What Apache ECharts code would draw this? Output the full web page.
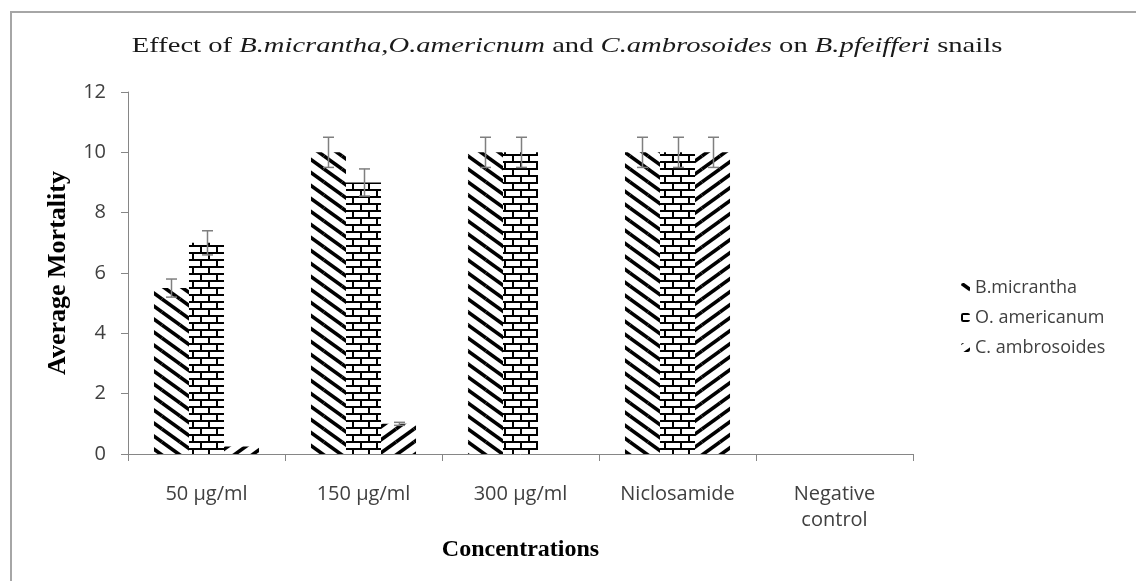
<!DOCTYPE html>
<html><head><meta charset="utf-8">
<script src="https://cdn.jsdelivr.net/npm/echarts@6/dist/echarts.min.js"></script>
<style>html,body{margin:0;padding:0;background:#fff}#chart{width:1136px;height:581px}</style>
</head><body><div id="chart"></div>
<script>
const categories = ['50 µg/ml', '150 µg/ml', '300 µg/ml', 'Niclosamide', 'Negative\ncontrol'];
const seriesNames = ['B.micrantha', 'O. americanum', 'C. ambrosoides'];
const bMicrantha = [5.5, 10, 10, 10, 0];
const oAmericanum = [7, 9, 10, 10, 0];
const cAmbrosoides = [0.25, 1, 0, 10, 0];
const bMicranthaErr = [0.3, 0.5, 0.5, 0.5, 0];
const oAmericanumErr = [0.4, 0.45, 0.5, 0.5, 0];
const cAmbrosoidesErr = [0, 0.05, 0, 0.5, 0];
const yMin = 0, yMax = 12, yStep = 2;

function stripes(dir) {
  const w = 18, h = 13;
  const c = document.createElement('canvas'); c.width = w; c.height = h;
  const g = c.getContext('2d');
  g.fillStyle = '#fff'; g.fillRect(0, 0, w, h);
  g.strokeStyle = '#000'; g.lineWidth = 3.6;
  for (const dx of [-w, 0, w]) for (const dy of [-h, 0, h]) {
    g.beginPath();
    if (dir > 0) { g.moveTo(dx, dy); g.lineTo(dx + w, dy + h); }
    else { g.moveTo(dx, dy + h); g.lineTo(dx + w, dy); }
    g.stroke();
  }
  return c;
}
function bricks() {
  const w = 16, h = 14;
  const c = document.createElement('canvas'); c.width = w; c.height = h;
  const g = c.getContext('2d');
  g.fillStyle = '#fff'; g.fillRect(0, 0, w, h);
  g.fillStyle = '#000';
  g.fillRect(0, 0, w, 2); g.fillRect(0, 7, w, 2);
  g.fillRect(0, 0, 2, 7); g.fillRect(8, 7, 2, 7);
  return c;
}
const patterns = [
  { image: stripes(1), repeat: 'repeat' },
  { image: bricks(), repeat: 'repeat' },
  { image: stripes(-1), repeat: 'repeat' }
];
const values = [bMicrantha, oAmericanum, cAmbrosoides];
const errors = [bMicranthaErr, oAmericanumErr, cAmbrosoidesErr];
const BAR_FRAC = 0.223;

const barSeries = values.map((vals, i) => ({
  type: 'bar', name: seriesNames[i], data: vals,
  barWidth: (BAR_FRAC * 100) + '%', barGap: '0%',
  itemStyle: { color: patterns[i] },
  emphasis: { disabled: true }
}));
const errSeries = values.map((vals, i) => ({
  type: 'custom', z: 10, silent: true,
  data: vals.map((v, k) => [k, v, errors[i][k]]),
  encode: { x: 0, y: 1 },
  renderItem(params, api) {
    const k = api.value(0), v = api.value(1), e = api.value(2);
    if (!e) return null;
    const cw = api.size([1, 0])[0];
    const bw = cw * BAR_FRAC;
    const x = Math.round(api.coord([k, v])[0] + (i - 1) * bw) + 0.5;
    const yt = api.coord([k, v + e])[1], yb = api.coord([k, v - e])[1];
    const cap = 5.5;
    const st = { stroke: '#7f7f7f', lineWidth: 1.5 };
    return { type: 'group', children: [
      { type: 'line', shape: { x1: x, y1: yt, x2: x, y2: yb }, style: st },
      { type: 'line', shape: { x1: x - cap, y1: yt, x2: x + cap, y2: yt }, style: st },
      { type: 'line', shape: { x1: x - cap, y1: yb, x2: x + cap, y2: yb }, style: st }
    ]};
  }
}));

const chart = echarts.init(document.getElementById('chart'));
chart.setOption({
  backgroundColor: '#fff',
  animation: false,
  graphic: [
    { type: 'line', shape: { x1: 10, y1: 12, x2: 1136, y2: 12 }, style: { stroke: '#a6a6a6', lineWidth: 2 } },
    { type: 'line', shape: { x1: 11, y1: 12, x2: 11, y2: 581 }, style: { stroke: '#a6a6a6', lineWidth: 2 } },
    { type: 'text', x: 567, y: 46, scaleX: 1.3, scaleY: 1,
      style: {
        text: '{n|Effect of }{i|B.micrantha,O.americnum}{n| and }{i|C.ambrosoides}{n| on }{i|B.pfeifferi}{n| snails}',
        align: 'center', verticalAlign: 'middle',
        rich: {
          n: { fontFamily: 'Liberation Serif', fontSize: 22, fill: '#1a1a1a' },
          i: { fontFamily: 'Liberation Serif', fontSize: 22, fontStyle: 'italic', fill: '#1a1a1a' }
        }
      }
    }
  ],
  legend: {
    orient: 'vertical', left: 956, top: 272,
    data: seriesNames,
    itemWidth: 9, itemHeight: 9, itemGap: 9,
    selectedMode: false,
    textStyle: { fontFamily: 'Open Sans', fontSize: 18, color: '#404040', lineHeight: 21 }
  },
  grid: { left: 128, right: 223, top: 92, bottom: 127 },
  xAxis: {
    type: 'category', data: categories,
    axisLine: { lineStyle: { color: '#868686', width: 1 } },
    axisTick: { show: true, length: 7, lineStyle: { color: '#868686' } },
    axisLabel: { fontFamily: 'Open Sans', fontSize: 20, color: '#404040', margin: 27, lineHeight: 26 },
    name: 'Concentrations', nameLocation: 'middle', nameGap: 82,
    nameTextStyle: { fontFamily: 'Liberation Serif', fontWeight: 'bold', fontSize: 24, color: '#000' }
  },
  yAxis: {
    type: 'value', min: yMin, max: yMax, interval: yStep,
    axisLine: { show: true, lineStyle: { color: '#868686', width: 1 } },
    axisTick: { show: true, length: 7, lineStyle: { color: '#868686' } },
    splitLine: { show: false },
    axisLabel: { fontFamily: 'Open Sans', fontSize: 20, color: '#404040', margin: 22 },
    name: 'Average Mortality', nameLocation: 'middle', nameGap: 57,
    nameTextStyle: { fontFamily: 'Liberation Serif', fontWeight: 'bold', fontSize: 26, color: '#000' }
  },
  series: [...barSeries, ...errSeries]
});
</script></body></html>
